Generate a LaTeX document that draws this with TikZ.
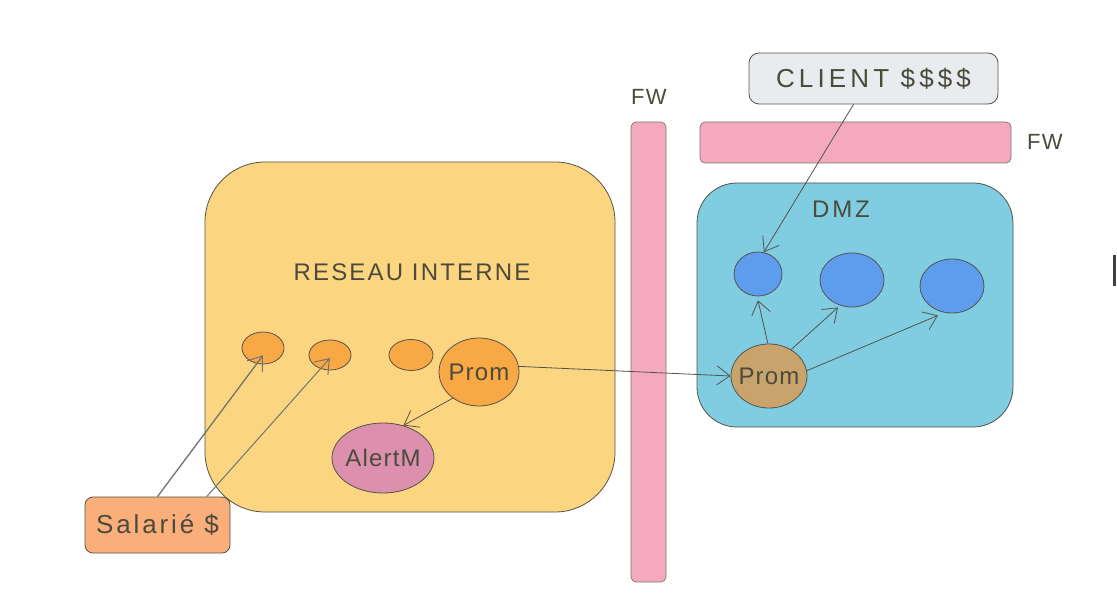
\documentclass[tikz,border=0pt]{standalone}
\usepackage{fontspec}
\setmainfont{Liberation Sans}
\usetikzlibrary{shapes.geometric,arrows.meta,calc}
\definecolor{inner}{HTML}{FCD581}
\definecolor{orng}{HTML}{F8A845}
\definecolor{alertc}{HTML}{DC90AE}
\definecolor{salc}{HTML}{FAAE7A}
\definecolor{fwc}{HTML}{F5A9BF}
\definecolor{clic}{HTML}{E9ECEF}
\definecolor{dmzc}{HTML}{80CCE1}
\definecolor{bluec}{HTML}{5E9DEE}
\definecolor{promd}{HTML}{C8A46C}
\definecolor{txt}{HTML}{4B4A3C}
\definecolor{edge}{HTML}{55544A}
\tikzset{
  x=1pt, y=-1pt,
  zone/.style={draw=edge, line width=0.8pt},
  lbl/.style={text=txt, font=\fontsize{24}{24}\selectfont\addfontfeatures{LetterSpace=9}},
  oval/.style={ellipse, draw=edge, line width=0.8pt, inner sep=-6pt, text=txt,
     font=\fontsize{24}{24}\selectfont\addfontfeatures{LetterSpace=5}},
  box/.style={rectangle, rounded corners=8pt, draw=edge, line width=0.8pt, inner sep=0pt, text=txt,
     font=\fontsize{26}{26}\selectfont\addfontfeatures{LetterSpace=11}},
  conn/.style={draw=edge, line width=0.8pt, -{Straight Barb[length=13pt,width=19pt,line width=0.8pt]}},
  sconn/.style={draw=gray!90!black, line width=1.3pt, -{Straight Barb[length=13pt,width=19pt,line width=1pt]}}
}
\begin{document}
\begin{tikzpicture}
\useasboundingbox (0,0) rectangle (1117,604);
\fill[white] (0,0) rectangle (1117,604);
% zones
\draw[zone, fill=inner, rounded corners=60pt] (205,162) rectangle (615,512);
\draw[zone, fill=dmzc, rounded corners=40pt] (697,183) rectangle (1013,427);
\draw[draw=edge!80, line width=0.7pt, fill=fwc, rounded corners=5pt] (631,122) rectangle (666,582);
\draw[draw=edge!80, line width=0.7pt, fill=fwc, rounded corners=5pt] (700,122) rectangle (1011,163);
\fill[black!75] (1113,255) rectangle (1116,286);
% labels
\node[lbl] (ri) at (412,272) {RESEAU INTERNE};
\node[lbl, font=\fontsize{24}{24}\selectfont\addfontfeatures{LetterSpace=12}] (dmz) at (841,209) {DMZ};
\node[lbl, font=\fontsize{22}{22}\selectfont\addfontfeatures{LetterSpace=6}] (fw1) at (649,97) {FW};
\node[lbl, font=\fontsize{22}{22}\selectfont\addfontfeatures{LetterSpace=6}] (fw2) at (1045,142) {FW};
% internal nodes
\node[oval, fill=orng, minimum width=42pt, minimum height=32pt] (e1) at (263,348) {};
\node[oval, fill=orng, minimum width=42pt, minimum height=30pt] (e2) at (330,355) {};
\node[oval, fill=orng, minimum width=44pt, minimum height=31pt] (e3) at (411,355) {};
\node[oval, fill=orng, minimum width=80pt, minimum height=68pt] (promI) at (479,372) {Prom};
\node[oval, fill=alertc, minimum width=102pt, minimum height=70pt] (alert) at (383,458) {AlertM};
\node[box, fill=salc, minimum width=145pt, minimum height=56pt] (sal) at (157.5,525) {Salarié \$};
% DMZ nodes
\node[box, fill=clic, rounded corners=10pt, minimum width=249pt, minimum height=51pt,
  font=\fontsize{26}{26}\selectfont\addfontfeatures{LetterSpace=16}] (client) at (873.5,78.5) {CLIENT \$\$\$\$};
\node[oval, fill=bluec, minimum width=48pt, minimum height=44pt] (b1) at (758,274) {};
\node[oval, fill=bluec, minimum width=64pt, minimum height=54pt] (b2) at (852,280) {};
\node[oval, fill=bluec, minimum width=64pt, minimum height=54pt] (b3) at (952,286) {};
\node[oval, fill=promd, minimum width=76pt, minimum height=64pt] (promD) at (769,376) {Prom};
% connectors
\draw[sconn] (sal.north) -- ($(e1.center)!0.45!(e1.south)$);
\draw[sconn, line width=1pt] (sal.30) -- ($(e2.center)!0.2!(e2.south)$);
\draw[conn] (promI.225) -- (alert.58);
\draw[conn] (promI.8) -- (promD.west);
\draw[conn] ($(client.south)+(-20,0)$) -- (b1.75);
\draw[conn] (promD.92) -- ($(b1.south)+(0,4)$);
\draw[conn] (promD.50) -- ($(b2.south)+(-14,0)$);
\draw[conn] (promD.8) -- ($(b3.south)+(-14,2)$);
\end{tikzpicture}
\end{document}
